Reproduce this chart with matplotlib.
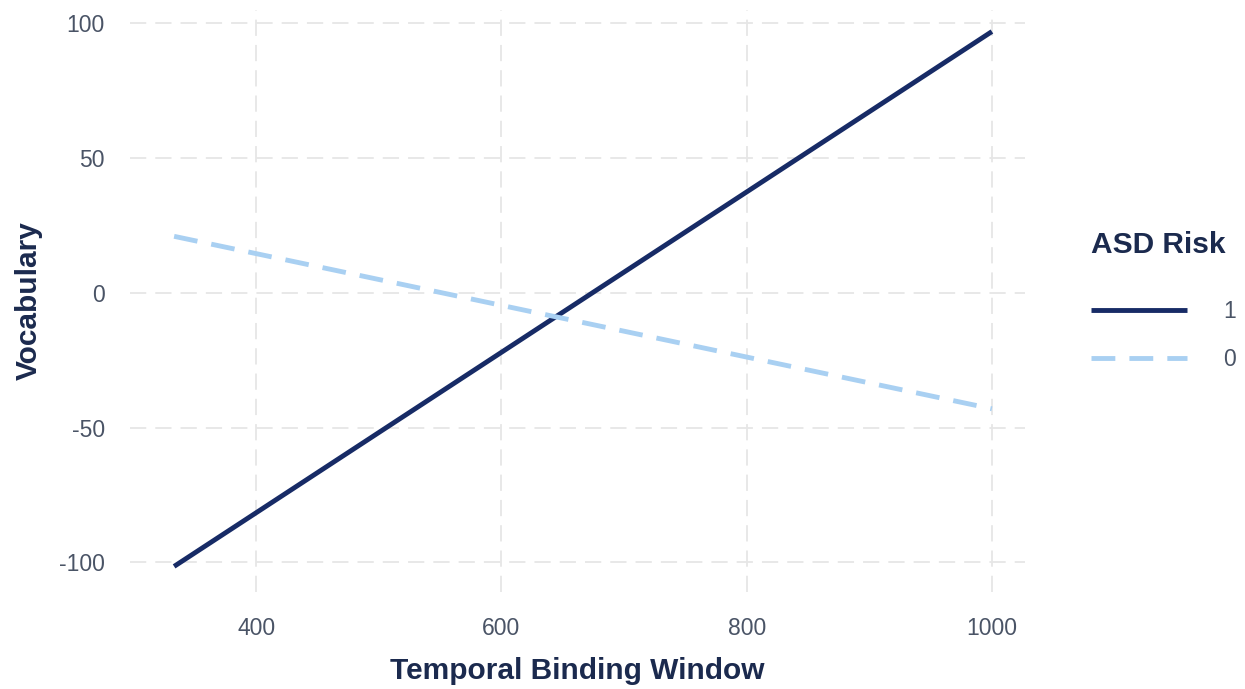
import numpy as np
import matplotlib.pyplot as plt

# fitted lines: vocabulary vs temporal binding window, by ASD risk group
tbw = [333, 1000]
vocab_risk1 = [-101.5, 97.0]
vocab_risk0 = [21.0, -43.0]
groups = ['1', '0']

navy = '#172b66'
light_blue = '#a9d0f2'
text_col = '#4a5466'
label_col = '#1b2a4e'

plt.rcParams['font.family'] = ['Liberation Sans', 'DejaVu Sans']
plt.rcParams['axes.unicode_minus'] = False

fig = plt.figure(figsize=(12.45, 6.89), dpi=100)
ax = fig.add_axes([0.1044, 0.1408, 0.7189, 0.8447])

ax.plot(tbw, vocab_risk1, color=navy, lw=3.5, solid_capstyle='butt', label=groups[0])
ax.plot(tbw, vocab_risk0, color=light_blue, lw=3.5, dashes=(4.9, 2.9), label=groups[1])

ax.set_xlim(297, 1027)
ax.set_ylim(-111, 105)
ax.set_xticks([400, 600, 800, 1000])
ax.set_yticks([-100, -50, 0, 50, 100])

ax.grid(True, color='#e6e6e6', lw=1.3, dashes=(9, 5))
ax.set_axisbelow(True)
for s in ax.spines.values():
    s.set_visible(False)
ax.tick_params(length=0, labelsize=16.5, colors=text_col)
ax.tick_params(axis='x', pad=18)
ax.tick_params(axis='y', pad=18)

ax.set_xlabel('Temporal Binding Window', fontsize=21.5, fontweight='bold', color=label_col, labelpad=12)
ax.set_ylabel('Vocabulary', fontsize=21.5, fontweight='bold', color=label_col, labelpad=12)

leg = ax.legend(title='ASD Risk', loc='center left', bbox_to_anchor=(1.064, 0.5),
                frameon=False, fontsize=16.5, title_fontsize=21.5, handlelength=4.15,
                handletextpad=1.6, labelspacing=1.1, borderaxespad=0)
leg.get_title().set_fontweight('bold')
leg.get_title().set_color(label_col)
for t in leg.get_texts():
    t.set_color(text_col)
leg._legend_box.align = 'left'
leg._legend_box.sep = 30

fig.savefig('out.png', dpi=100)
